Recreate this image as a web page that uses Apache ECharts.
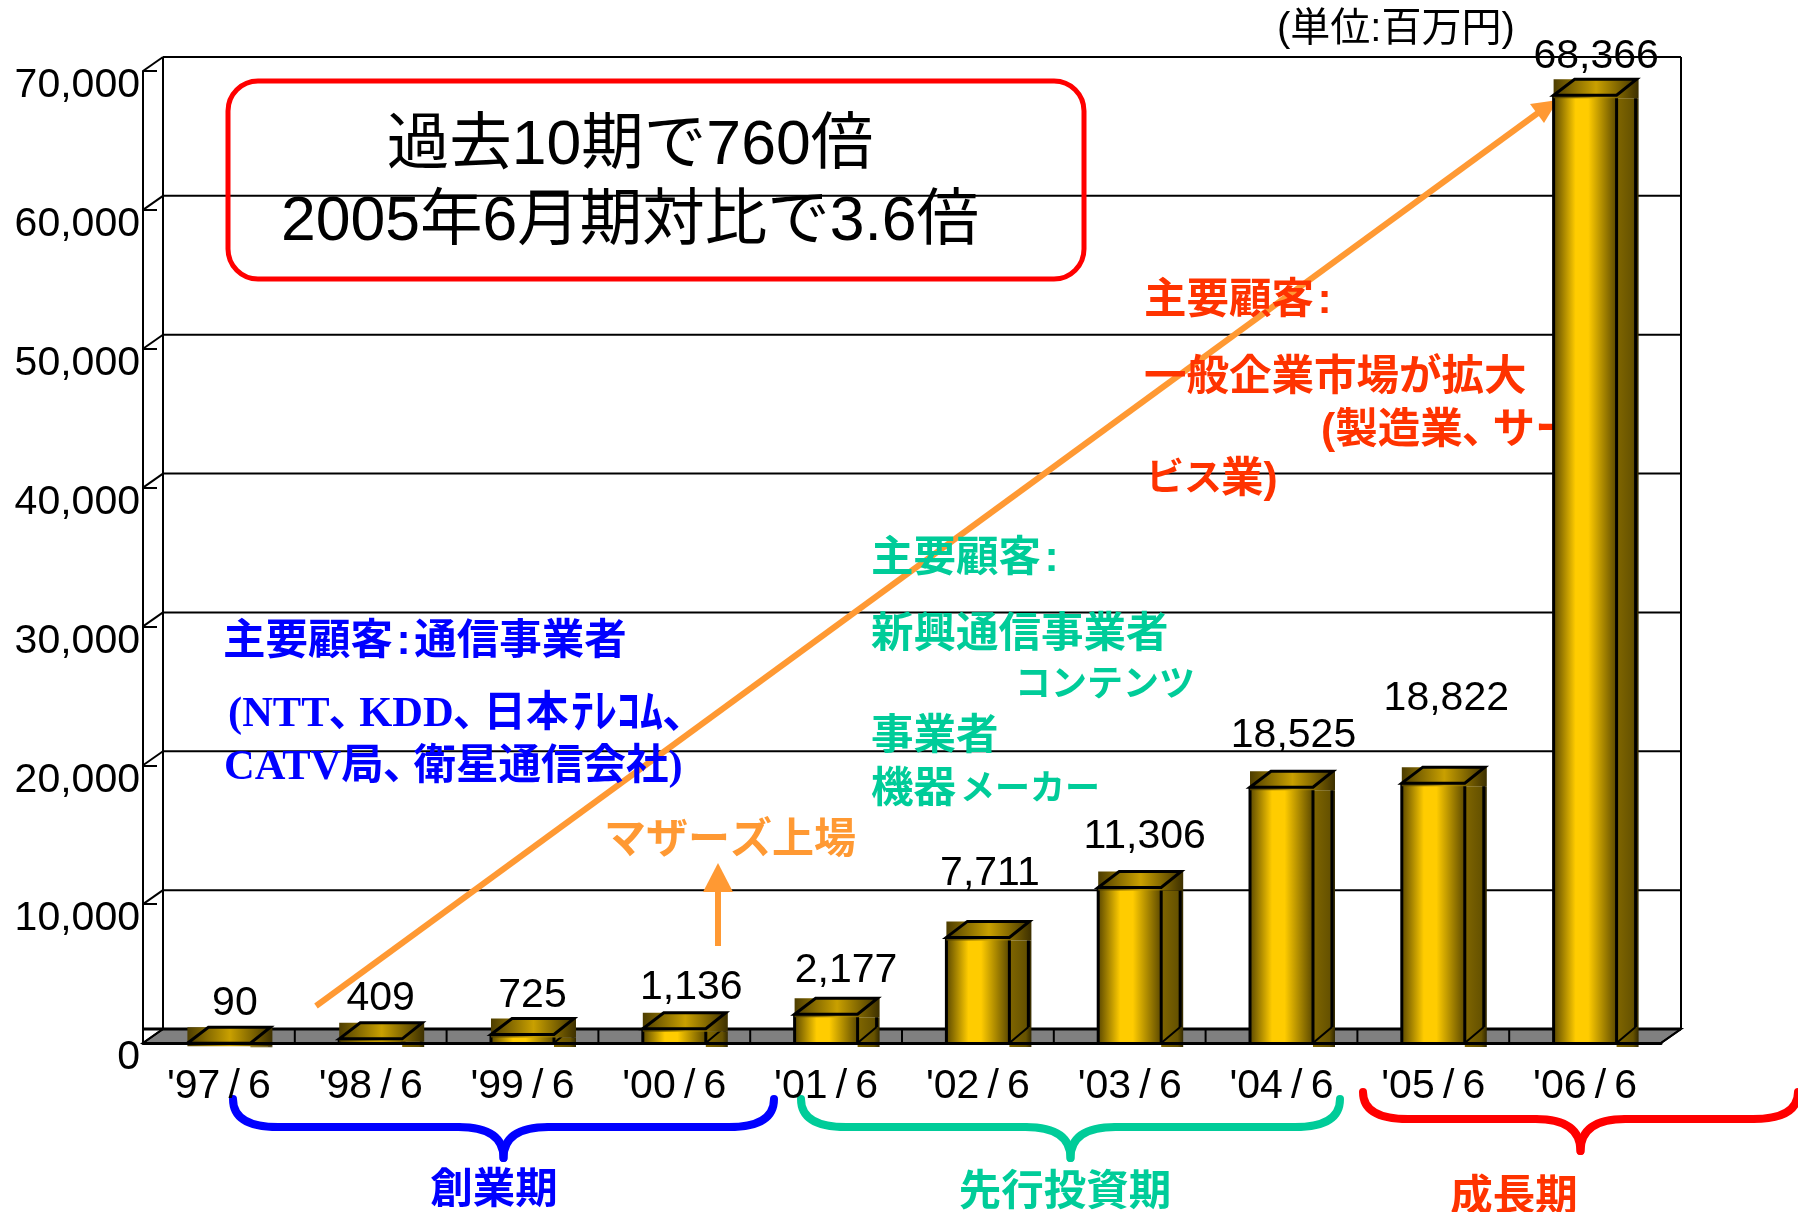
<!DOCTYPE html>
<html lang="ja">
<head>
    <meta charset="utf-8">
    <title>売上高推移</title>
    <script src="https://cdn.jsdelivr.net/npm/echarts@6/dist/echarts.min.js"></script>
    <style>
        html, body { margin: 0; padding: 0; background: #fff; }
        #main { width: 1798px; height: 1212px; }
    </style>
</head>
<body>
<div id="main"></div>
<script type="text/javascript">
    // 決算期と売上高（百万円）
    var categories = ["'97\u2009/\u20096", "'98\u2009/\u20096", "'99\u2009/\u20096", "'00\u2009/\u20096", "'01\u2009/\u20096",
        "'02\u2009/\u20096", "'03\u2009/\u20096", "'04\u2009/\u20096", "'05\u2009/\u20096", "'06\u2009/\u20096"];
    var sales = [90, 409, 725, 1136, 2177, 7711, 11306, 18525, 18822, 68366];
    var yTicks = [0, 10000, 20000, 30000, 40000, 50000, 60000, 70000];

    // 値ラベルのずらし量 (棒の中心・上端から)
    var labelShift = [[16, -38], [10, -39], [10, -37], [17, -40], [20, -42], [12, -62], [15, -49], [12, -50], [13, -83], [11, -37]];

    var SANS = '"Liberation Sans","Noto Sans CJK JP",sans-serif';
    var WALL_X = 20, WALL_Y = -14;   // 奥行き(壁)
    var BAR_X = 22, BAR_Y = -16;     // 奥行き(棒)
    var LINE = '#000';

    var faceFill = new echarts.graphic.LinearGradient(0, 0, 1, 0, [
        {offset: 0, color: '#5c4900'}, {offset: 0.35, color: '#ffcc00'},
        {offset: 0.55, color: '#ffcc00'}, {offset: 1, color: '#5c4900'}]);
    var sideFill = new echarts.graphic.LinearGradient(0, 0, 1, 0, [
        {offset: 0, color: '#806600'}, {offset: 0.75, color: '#665200'}, {offset: 1, color: '#332900'}]);
    var capFill = new echarts.graphic.LinearGradient(0, 0, 1, 0, [
        {offset: 0, color: '#4d3d00'}, {offset: 0.5, color: '#c9a000'}, {offset: 1, color: '#3d3000'}]);

    function seg(x1, y1, x2, y2, w) {
        return {type: 'line', shape: {x1: x1, y1: y1, x2: x2, y2: y2}, style: {stroke: LINE, lineWidth: w || 2}};
    }

    // 床と壁
    function renderWalls(params, api) {
        var left = api.coord([0, 0])[0] - api.size([1, 0])[0] / 2;
        var band = api.size([1, 0])[0];
        var right = left + band * categories.length;
        var base = api.coord([0, 0])[1];
        var kids = [];
        kids.push({type: 'polygon',
            shape: {points: [[left, base], [left + WALL_X, base + WALL_Y], [right + WALL_X, base + WALL_Y], [right, base]]},
            style: {fill: '#808080', stroke: LINE, lineWidth: 2}});
        for (var i = 1; i < categories.length; i++) {
            kids.push(seg(left + band * i, base, left + band * i, base + WALL_Y));
        }
        kids.push(seg(left, base + WALL_Y, right + WALL_X, base + WALL_Y, 3));
        yTicks.forEach(function (t) {
            var y = api.coord([0, t])[1];
            kids.push(seg(left, y, left + WALL_X, y + WALL_Y));
            if (t > 0) {
                kids.push(seg(left + WALL_X, y + WALL_Y, right + WALL_X, y + WALL_Y));
            }
        });
        var top = api.coord([0, yTicks[yTicks.length - 1]])[1];
        kids.push(seg(left + WALL_X, top + WALL_Y, left + WALL_X, base + WALL_Y));
        kids.push(seg(right + WALL_X, top + WALL_Y, right + WALL_X, base + WALL_Y));
        kids.push(seg(right, base, right + WALL_X, base + WALL_Y));
        return {type: 'group', children: kids};
    }

    // 立体の棒
    function renderBar(params, api) {
        var c = api.coord([api.value(0), api.value(1)]);
        var base = api.coord([api.value(0), 0])[1];
        var w = api.size([1, 0])[0] * 0.415;
        var x0 = c[0] - w / 2, x1 = x0 + w, y = c[1] + 1.5;
        return {type: 'group', children: [
            {type: 'rect', shape: {x: x0, y: y, width: w, height: base - y}, style: {fill: faceFill}},
            seg(x0, y, x0, base, 3),
            {type: 'rect', shape: {x: x1, y: y + 3, width: BAR_X, height: Math.max(base - y + 1, 1)}, style: {fill: sideFill}},
            seg(x1, y, x1, base, 3),
            seg(x1 + BAR_X - 3, y + 3, x1 + BAR_X - 3, base + BAR_Y, 3),
            seg(x1, base, x1 + BAR_X - 3, base + BAR_Y, 2),
            {type: 'rect', shape: {x: x0, y: y + BAR_Y, width: w + BAR_X, height: -BAR_Y + 3}, style: {fill: capFill}},
            {type: 'polygon',
                shape: {points: [[x0, y], [x0 - BAR_Y + 5, y + BAR_Y], [x1 + BAR_X - 2, y + BAR_Y], [x1, y]]},
                style: {fill: 'none', stroke: LINE, lineWidth: 3}}
        ]};
    }

    function renderLabel(params, api) {
        var i = params.dataIndex;
        var c = api.coord([api.value(0), api.value(1)]);
        return {type: 'text', style: {
            text: api.value(1).toLocaleString('en-US'),
            x: c[0] + labelShift[i][0], y: c[1] + labelShift[i][1],
            fill: '#000', font: '41px ' + SANS, textAlign: 'center', textVerticalAlign: 'middle'
        }};
    }

    function note(text, x, y, color, align, family, weight, size) {
        return {type: 'text', z: 1, style: {
            text: text, x: x, y: y, fill: color,
            font: (weight || 'bold') + ' ' + (size || 42.5) + 'px ' + (family || SANS),
            textAlign: align || 'left', textVerticalAlign: 'middle'
        }};
    }

    // 中かっこ
    function brace(x1, x2, yStart, yFlat, yTip, color) {
        var m = (x1 + x2) / 2, r = 45;
        var st = {fill: 'none', stroke: color, lineWidth: 8, lineCap: 'round'};
        function curve(ax, ay, cx, cy, bx, by) {
            return {type: 'bezierCurve', z: 1, style: st,
                shape: {x1: ax, y1: ay, cpx1: cx, cpy1: cy, x2: bx, y2: by}};
        }
        function flat(ax, bx) {
            return {type: 'line', z: 1, style: st, shape: {x1: ax, y1: yFlat, x2: bx, y2: yFlat}};
        }
        return [
            curve(x1, yStart, x1, yFlat, x1 + r, yFlat),
            flat(x1 + r, m - r),
            curve(m - r, yFlat, m, yFlat, m, yTip),
            curve(m, yTip, m, yFlat, m + r, yFlat),
            flat(m + r, x2 - r),
            curve(x2 - r, yFlat, x2, yFlat, x2, yStart)
        ];
    }

    var ORANGE = '#ff9933', BLUE = '#0000ff', GREEN = '#00cc99', RED = '#ff3300';
    var SERIF = '"Liberation Serif","Noto Sans CJK JP",serif';
    var COLON = '\u200a:\u200a';

    var notes = [
        // 右肩上がりの矢印
        {type: 'line', z: 1, shape: {x1: 316, y1: 1006, x2: 1542, y2: 110},
            style: {stroke: ORANGE, lineWidth: 6}},
        {type: 'polygon', z: 1, shape: {points: [[1558, 100], [1544, 123], [1530, 104]]},
            style: {fill: ORANGE}},
        // 上場の矢印
        {type: 'line', z: 1, shape: {x1: 718, y1: 946, x2: 718, y2: 890},
            style: {stroke: ORANGE, lineWidth: 6}},
        {type: 'polygon', z: 1, shape: {points: [[718, 863], [703, 892], [733, 892]]},
            style: {fill: ORANGE}},
        // 枠
        {type: 'rect', z: 1, shape: {x: 228, y: 81, width: 856, height: 198, r: 30},
            style: {fill: 'none', stroke: '#ff0000', lineWidth: 5}},
        note('過去10期で760倍', 630, 147, '#000', 'center', SANS, 'normal', 62.5),
        note('2005年6月期対比で3.6倍', 630, 223, '#000', 'center', SANS, 'normal', 62.5),
        note('(単位:百万円)', 1277, 30, '#000', 'left', SANS, 'normal', 40),
        // 創業期
        note('主要顧客' + COLON + '通信事業者', 223, 642, BLUE),
        note('(NTT､\u2009KDD､\u2009日本', 228, 715, BLUE, 'left', SERIF),
        note('ﾃﾚｺﾑ､', 571, 715, BLUE, 'left', SERIF, 'bold', 46),
        note('CATV局､\u2009衛星通信会社)', 224, 768, BLUE, 'left', SERIF),
        // 先行投資期
        note('主要顧客' + COLON, 871, 559, GREEN),
        note('新興通信事業者', 871, 635, GREEN),
        note('コンテンツ', 1015, 686, GREEN, 'left', SANS, 'bold', 36),
        note('事業者', 871, 737, GREEN),
        note('機器', 871, 790, GREEN),
        note('メーカー', 960, 790, GREEN, 'left', SANS, 'bold', 35),
        // 成長期
        note('主要顧客' + COLON, 1144, 301, RED),
        note('一般企業市場が拡大', 1144, 378, RED),
        note('(製造業､\u2009サー', 1321, 431, RED),
        note('ビス', 1146, 480, RED, 'left', SANS, 'bold', 38),
        note('業)', 1221, 480, RED),
        note('マザーズ上場', 604, 841, ORANGE, 'left', SANS, 'bold', 42),
        note('創業期', 494, 1191, BLUE, 'center'),
        note('先行投資期', 1065, 1193, GREEN, 'center'),
        note('成長期', 1514, 1198, RED, 'center')
    ].concat(
        brace(233, 774, 1099, 1127, 1158, BLUE),
        brace(801, 1340, 1099, 1127, 1158, GREEN),
        brace(1363, 1798, 1092, 1119, 1151, '#ff0000')
    );

    var myChart = echarts.init(document.getElementById('main'));
    var option = {
        animation: false,
        backgroundColor: '#fff',
        grid: {left: 143, right: 137, top: 71, bottom: 169, containLabel: false},
        xAxis: {
            type: 'category',
            data: categories,
            z: 20,
            axisLine: {lineStyle: {color: LINE, width: 3}},
            axisTick: {show: false},
            splitLine: {show: false},
            axisLabel: {color: '#000', fontSize: 41, fontFamily: SANS, margin: 23, interval: 0}
        },
        yAxis: {
            type: 'value',
            min: 0,
            max: 70000,
            interval: 10000,
            splitLine: {show: false},
            axisLine: {show: true, lineStyle: {color: LINE, width: 2}},
            axisTick: {show: true, inside: true, length: 14, lineStyle: {color: LINE, width: 2}},
            axisLabel: {
                color: '#000', fontSize: 41, fontFamily: SANS, margin: 3,
                verticalAlign: 'top', lineHeight: 30,
                formatter: function (v) { return v.toLocaleString('en-US'); }
            }
        },
        series: [
            {type: 'custom', z: 0, silent: true, renderItem: renderWalls, data: [[0, 0]], clip: false},
            {type: 'custom', z: 5, renderItem: renderBar, clip: false,
                encode: {x: 0, y: 1},
                data: sales.map(function (v, i) { return [i, v]; })},
            {type: 'custom', z: 10, renderItem: renderLabel, clip: false,
                encode: {x: 0, y: 1},
                data: sales.map(function (v, i) { return [i, v]; })}
        ],
        graphic: {elements: notes}
    };
    myChart.setOption(option);
</script>
</body>
</html>
